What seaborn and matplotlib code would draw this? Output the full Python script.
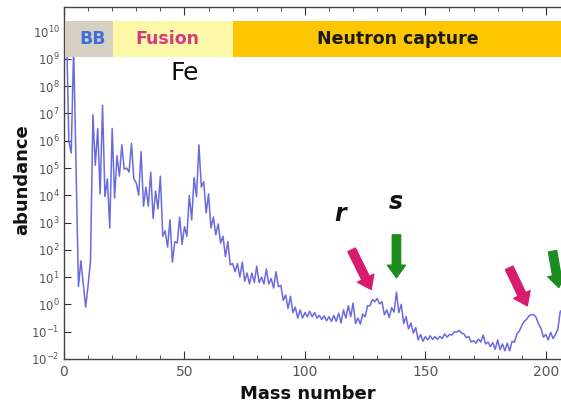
import numpy as np
import pandas as pd
import matplotlib
matplotlib.use("Agg")
import matplotlib.pyplot as plt
import seaborn as sns
from matplotlib.patches import FancyArrowPatch
from matplotlib.ticker import FixedLocator, MultipleLocator

# ---------------- data ----------------
mass_number = [1, 2, 3, 4, 6, 7, 9, 10, 11] + list(range(12, 209))
log_abundance = [
    10.3, 6.0, 5.55, 9.43, 0.66, 1.6, -0.1, 0.7, 1.6,
    # 12-20
    6.95, 5.1, 6.45, 4.05, 7.3, 3.95, 4.6, 2.8, 6.45,
    # 21-30
    3.9, 5.45, 4.7, 5.85, 4.95, 5.0, 4.85, 5.9, 4.6, 4.45,
    # 31-40
    4.0, 5.6, 3.6, 4.3, 3.6, 4.85, 3.15, 4.15, 3.5, 4.7,
    # 41-50
    2.5, 2.7, 2.1, 3.1, 1.55, 2.3, 2.25, 3.2, 2.2, 2.85,
    # 51-60
    2.5, 4.0, 3.1, 4.65, 3.95, 5.85, 4.3, 4.5, 3.35, 4.05,
    # 61-70
    2.8, 3.2, 2.55, 2.95, 2.25, 2.5, 1.75, 2.3, 1.45, 1.5,
    # 71-80
    1.2, 1.5, 1.0, 1.55, 0.85, 1.15, 0.75, 1.15, 0.8, 1.4,
    # 81-90
    0.8, 1.0, 0.75, 1.3, 0.75, 0.95, 0.6, 1.2, 0.65, 0.7,
    # 91-100
    0.15, 0.35, -0.15, 0.3, -0.3, -0.1, -0.5, -0.2, -0.5, -0.3,
    # 101-110
    -0.45, -0.25, -0.45, -0.3, -0.5, -0.4, -0.55, -0.42, -0.6, -0.45,
    # 111-120
    -0.62, -0.4, -0.62, -0.32, -0.68, -0.2, -0.5, -0.05, -0.45, 0.05,
    # 121-130
    -0.7, -0.5, -0.72, -0.35, -0.45, -0.05, -0.05, 0.18, 0.1, 0.22,
    # 131-140
    0.02, 0.1, -0.38, -0.2, -0.48, -0.12, -0.28, 0.45, -0.3, 0.0,
    # 141-150
    -0.7, -0.45, -0.9, -0.68, -1.05, -0.85, -1.3, -1.1, -1.35, -1.18,
    # 151-160
    -1.3, -1.15, -1.28, -1.18, -1.28, -1.17, -1.25, -1.08, -1.2, -1.1,
    # 161-170
    -1.12, -1.0, -1.02, -0.95, -1.05, -1.08, -1.22, -1.17, -1.38, -1.33,
    # 171-180
    -1.42, -1.27, -1.38, -1.12, -1.45, -1.38, -1.55, -1.4, -1.65, -1.3,
    # 181-190
    -1.66, -1.45, -1.7, -1.42, -1.7, -1.35, -1.38, -1.08, -0.98, -0.78,
    # 191-200
    -0.62, -0.55, -0.42, -0.38, -0.37, -0.48, -0.72, -0.88, -1.2, -1.1,
    # 201-208
    -1.3, -1.02, -1.25, -1.1, -0.9, -0.25, -0.2, 0.27,
]

band_labels = ["BB", "Fusion", "Neutron capture"]
band_start = [0.6, 20.3, 70.2]
band_end = [20.3, 70.2, 215.0]
band_colors = ["#d6d1c3", "#fdf7a8", "#fdc600"]
band_text_colors = ["#3f6fd6", "#d23a82", "#1a1a1a"]
band_text_x = [12.0, 43.0, 138.5]

x_ticks = [0, 50, 100, 150, 200]
y_exponents = list(range(-2, 11))

# ---------------- figure ----------------
sns.set_style("ticks")
plt.rcParams['font.family'] = ['DejaVu Sans']

W, H = 561, 409
fig = plt.figure(figsize=(W / 100, H / 100), dpi=100)
ax = fig.add_axes([64 / W, 1 - 359 / H, 1 - 64 / W, (359 - 7.3) / H])

df = pd.DataFrame({"A": mass_number, "abundance": 10 ** np.array(log_abundance)})
sns.lineplot(data=df, x="A", y="abundance", ax=ax, color="#6262de",
             linewidth=1.1, alpha=0.95, zorder=2, sort=True)

ax.set_yscale("log")
ax.set_xlim(0, 206.3)
ax.set_ylim(1e-2, 10 ** 10.89)

# process bands
b_lo, b_hi = 10 ** 9.08, 10 ** 10.37
for lab, x0, x1, c, tc, tx in zip(band_labels, band_start, band_end,
                                   band_colors, band_text_colors, band_text_x):
    ax.fill_between([x0, x1], b_lo, b_hi, color=c, zorder=3, linewidth=0)
    ax.text(tx, 10 ** 9.72, lab, color=tc, fontsize=12.5, ha="center",
            va="center", zorder=4, fontweight="bold")

# annotations
ax.text(50, 10 ** 8.5, "Fe", fontsize=18, ha="center", va="center", color="#111111")
ax.text(114.4, 10 ** 3.3, "r", fontsize=17, ha="center", va="center",
        style="italic", fontweight="bold", color="#111111")
ax.text(137.7, 10 ** 3.75, "s", fontsize=17, ha="center", va="center",
        style="italic", fontweight="bold", color="#111111")

arrows = [((119.4, 10 ** 2.0), (127.5, 10 ** 0.55), "#d81b6f"),
          ((138.0, 10 ** 2.55), (138.0, 10 ** 0.98), "#1e8c1e"),
          ((184.8, 10 ** 1.34), (192.3, 10 ** -0.05), "#d81b6f"),
          ((202.8, 10 ** 1.95), (205.4, 10 ** 0.62), "#1e8c1e")]
for p0, p1, c in arrows:
    ax.add_patch(FancyArrowPatch(p0, p1, arrowstyle="simple,head_length=0.9,head_width=1.3,tail_width=0.6",
                                 mutation_scale=10, color=c, zorder=5, shrinkA=0, shrinkB=0))

# ticks
ax.xaxis.set_major_locator(FixedLocator(x_ticks))
ax.xaxis.set_minor_locator(MultipleLocator(10))
ax.yaxis.set_major_locator(FixedLocator([10.0 ** e for e in y_exponents]))
ax.yaxis.set_minor_locator(FixedLocator([]))
ax.set_yticklabels([r"$10^{%d}$" % e for e in y_exponents])
ax.tick_params(axis="both", which="both", direction="in", top=True, right=False,
               colors="#333333", labelcolor="#555555")
ax.tick_params(axis="x", which="major", length=6, labelsize=10, pad=4)
ax.tick_params(axis="x", which="minor", length=3)
ax.tick_params(axis="y", which="major", length=5, labelsize=8.5, pad=3)
for s in ["left", "bottom", "top"]:
    ax.spines[s].set_color("#444444")
    ax.spines[s].set_linewidth(1.0)
ax.spines["right"].set_visible(False)
ax.set_xlabel("")
ax.set_ylabel("")

fig.text(308 / W, 1 - 394 / H, "Mass number", fontsize=13, fontweight="bold",
         ha="center", va="center", color="#111111")
fig.text(22 / W, 1 - 180 / H, "abundance", fontsize=13, fontweight="bold",
         ha="center", va="center", rotation=90, color="#111111")

fig.savefig("out.png", dpi=100)
